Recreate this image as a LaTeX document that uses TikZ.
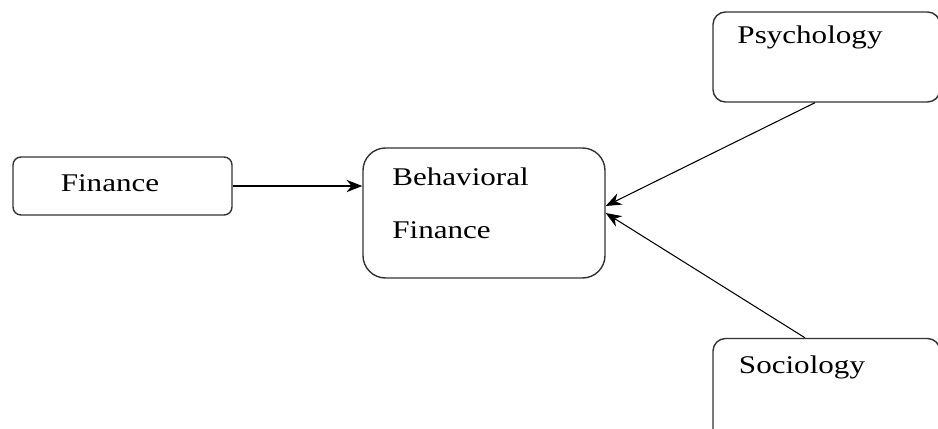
\documentclass[tikz,border=0pt]{standalone}
\usepackage{fontspec}
\setmainfont{Liberation Serif}[FakeStretch=1.22]
\usetikzlibrary{arrows.meta}
\usetikzlibrary{positioning}

\tikzset{
    box/.style={draw=black!80,line width=0.8pt,fill=white},
    lbl/.style={font=\fontsize{14.5}{17}\selectfont,inner sep=0pt},
}

\begin{document}
\begin{tikzpicture}[>={Stealth[length=9pt,width=7pt]}]
    \useasboundingbox (0,0) rectangle (18.76,8.56);
    \clip (0,0) rectangle (18.76,8.56);
    % boxes
    \node[box,rounded corners=0.16cm,minimum width=4.38cm,minimum height=1.16cm] at (2.45,4.84) (fin) {};
    \node[box,rounded corners=0.45cm,minimum width=4.84cm,minimum height=2.6cm] at (9.68,4.30) (bf) {};
    \node[box,rounded corners=0.25cm,minimum width=4.54cm,minimum height=1.8cm] at (16.53,7.42) (psy) {};
    \node[box,rounded corners=0.25cm,minimum width=4.54cm,minimum height=2.1cm] at (16.53,0.74) (soc) {};
    % texts
    \node[lbl] at (2.2,4.9) (fintxt) {Finance};
    \node[lbl,anchor=west] at (7.84,5.02) (bftxt1) {Behavioral};
    \node[lbl,anchor=west] at (7.84,3.96) (bftxt2) {Finance};
    \node[lbl] at (16.2,7.82) (psytxt) {Psychology};
    \node[lbl] at (16.04,1.22) (soctxt) {Sociology};
    % arrows
    \draw[->,line width=0.7pt] (fin.east) -- (fin.east -| bf.west);
    \draw[->,line width=0.6pt] ([xshift=-0.23cm]psy.south) -- ([yshift=0.14cm]bf.east);
    \draw[->,line width=0.6pt] ([xshift=-0.43cm]soc.north) -- (bf.east);
\end{tikzpicture}
\end{document}
